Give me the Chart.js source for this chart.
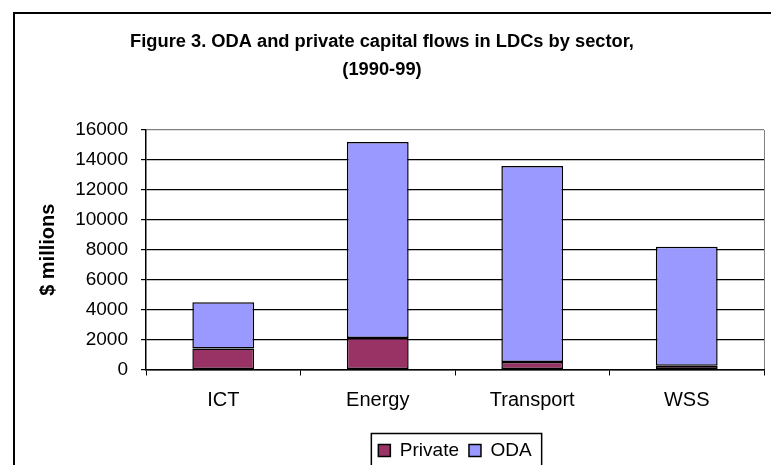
<!DOCTYPE html>
<html>
<head>
<meta charset="utf-8">
<script src="https://cdn.jsdelivr.net/npm/chart.js@4/dist/chart.umd.min.js"></script>
<style>
  body { margin: 0; background: #fff; }
  #wrap { width: 771px; height: 465px; position: relative; }
</style>
</head>
<body>
<div id="wrap"><canvas id="chart" width="771" height="465"></canvas></div>
<script>
// sectors and flows, $ millions
const sectors = ['ICT', 'Energy', 'Transport', 'WSS'];
const privateFlows = [1400, 2100, 500, 250];
const odaFlows = [3100, 13100, 13100, 7950];
const yTicks = [0, 2000, 4000, 6000, 8000, 10000, 12000, 14000, 16000];

const FONT = '"Liberation Sans", Arial, sans-serif';

// outer frame of the figure (only left and top edges fall inside the picture)
const framePlugin = {
    id: 'frame',
    beforeDraw(chart) {
        const ctx = chart.ctx;
        ctx.save();
        ctx.fillStyle = '#fff';
        ctx.fillRect(0, 0, chart.width, chart.height);
        ctx.fillStyle = '#000';
        ctx.fillRect(13, 12, 2, chart.height);
        ctx.fillRect(13, 12, chart.width, 2);
        ctx.restore();
    }
};

// box round the legend
const legendBoxPlugin = {
    id: 'legendBox',
    afterDraw(chart) {
        const boxes = chart.legend.legendHitBoxes;
        if (!boxes || !boxes.length) return;
        const first = boxes[0], last = boxes[boxes.length - 1];
        const mid = first.top + first.height / 2;
        const ctx = chart.ctx;
        ctx.save();
        ctx.strokeStyle = '#000';
        ctx.lineWidth = 1.5;
        ctx.strokeRect(first.left - 7, mid - 17, last.left + last.width + 17 - first.left, 60);
        ctx.restore();
    }
};

new Chart(document.getElementById('chart').getContext('2d'), {
    type: 'bar',
    data: {
        labels: sectors,
        datasets: [
            {
                label: 'Private',
                data: privateFlows,
                backgroundColor: '#993366',
                borderColor: '#000',
                borderWidth: 1.5,
                borderSkipped: false
            },
            {
                label: 'ODA',
                data: odaFlows,
                backgroundColor: '#9999FF',
                borderColor: '#000',
                borderWidth: 1.5,
                borderSkipped: false
            }
        ]
    },
    options: {
        responsive: false,
        animation: false,
        devicePixelRatio: 1,
        layout: { padding: { left: 0, right: 7, top: 0, bottom: -5 } },
        datasets: { bar: { categoryPercentage: 1, barPercentage: 0.4 } },
        plugins: {
            title: {
                display: true,
                text: ['Figure 3. ODA and private capital flows in LDCs by sector,', '(1990-99)'],
                color: '#000',
                font: { family: FONT, size: 18.3, weight: 'bold', lineHeight: 1.5 },
                padding: { top: 28.5, bottom: 46.6 }
            },
            legend: {
                position: 'bottom',
                fullSize: false,
                labels: {
                    color: '#000',
                    font: { family: FONT, size: 19 },
                    boxWidth: 12,
                    boxHeight: 12,
                    padding: 10
                }
            },
            tooltip: { enabled: false }
        },
        scales: {
            x: {
                stacked: true,
                afterFit: s => { s.height = 61.5; },
                grid: {
                    offset: true,
                    drawOnChartArea: true,
                    color: c => (c.type === 'scale' ? '#808080' : 'rgba(0,0,0,0)'),
                    tickColor: '#000',
                    tickLength: 6
                },
                border: { color: '#000', width: 1.5 },
                ticks: { color: '#000', font: { family: FONT, size: 20 }, padding: 13 }
            },
            y: {
                stacked: true,
                min: 0,
                max: 16000,
                afterFit: s => { s.width = 146; },
                afterBuildTicks: s => { s.ticks = yTicks.map(v => ({ value: v })); },
                grid: {
                    color: c => (c.tick && c.tick.value === 16000 ? '#808080' : '#000'),
                    tickColor: '#000',
                    tickLength: 5,
                    lineWidth: 1.2
                },
                border: { color: '#000', width: 1.5 },
                ticks: {
                    color: '#000',
                    font: { family: FONT, size: 19 },
                    padding: 13,
                    callback: v => String(v)
                },
                title: {
                    display: true,
                    text: '$ millions',
                    color: '#000',
                    font: { family: FONT, size: 20, weight: 'bold' },
                    padding: { top: 36, bottom: 0 }
                }
            }
        }
    },
    plugins: [framePlugin, legendBoxPlugin]
});
</script>
</body>
</html>
